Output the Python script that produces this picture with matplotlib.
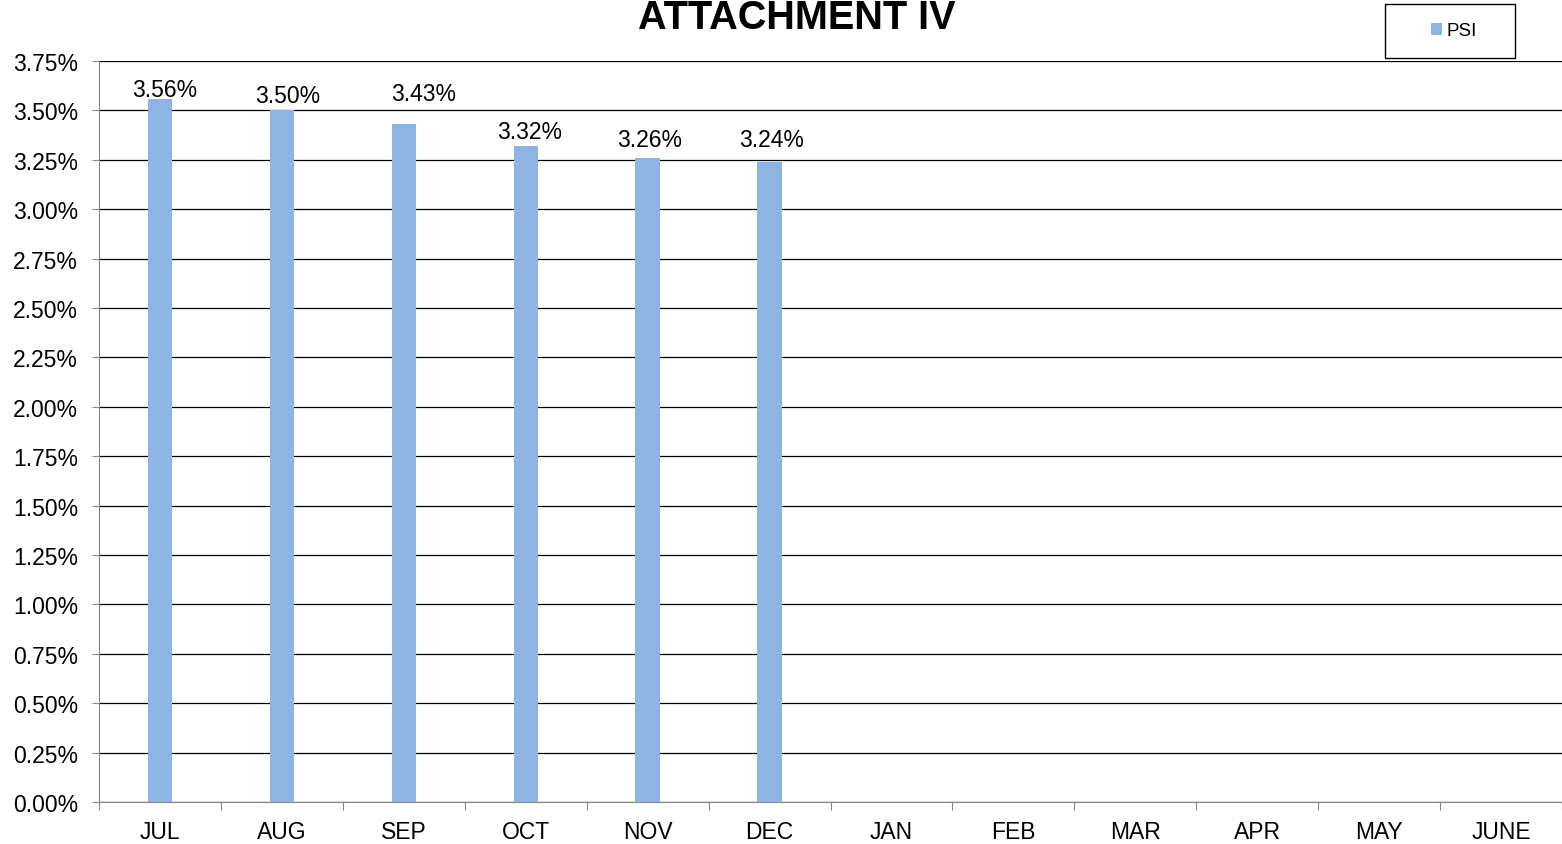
import matplotlib
matplotlib.use('Agg')
import matplotlib.pyplot as plt
from matplotlib.patches import Rectangle
from matplotlib.ticker import FuncFormatter

plt.rcParams['font.family'] = ['Liberation Sans', 'DejaVu Sans']

# Datos del gráfico
meses = ['JUL', 'AUG', 'SEP', 'OCT', 'NOV', 'DEC', 'JAN', 'FEB', 'MAR', 'APR', 'MAY', 'JUNE']
psi = [3.56, 3.50, 3.43, 3.32, 3.26, 3.24, None, None, None, None, None, None]
etiquetas = ['3.56%', '3.50%', '3.43%', '3.32%', '3.26%', '3.24%']
yticks = [0.0, 0.25, 0.5, 0.75, 1.0, 1.25, 1.5, 1.75, 2.0, 2.25, 2.5, 2.75, 3.0, 3.25, 3.5, 3.75]

# Desplazamiento de cada etiqueta (como en el original)
desplaz_y = [0.048, 0.074, 0.154, 0.071, 0.095, 0.115]
desplaz_x = [0.04, 0.05, 0.16, 0.03, 0.02, 0.02]

color_barra = '#8EB4E3'

fig = plt.figure(figsize=(15.62, 8.45), dpi=100)
ax = fig.add_axes([99 / 1562, 1 - 803 / 845, 1 - 99 / 1562, (803 - 62) / 845])

x = list(range(len(meses)))
valores = [v if v is not None else 0 for v in psi]
bars = ax.bar(x, valores, width=0.2, color=color_barra, zorder=3, label='PSI')

# Etiquetas sobre las barras
for bar, texto, v, dx, dy in zip(bars, etiquetas, psi, desplaz_x, desplaz_y):
    ax.text(bar.get_x() + bar.get_width() / 2 + dx, v + dy, texto,
            ha='center', va='center', fontsize=16.5)

ax.set_xlim(-0.5, len(meses) - 0.5)
ax.set_ylim(0, 3.75)
ax.set_yticks(yticks)
ax.yaxis.set_major_formatter(FuncFormatter(lambda v, p: f'{v:.2f}%'))
ax.grid(axis='y', color='#000000', linewidth=0.9, zorder=0)
ax.set_axisbelow(True)

# Marcas del eje x entre categorías
ax.set_xticks([i + 0.5 for i in range(-1, len(meses))], minor=False)
ax.set_xticklabels([])
ax.set_xticks(x, minor=True)
ax.set_xticklabels(meses, minor=True, fontsize=16.5)
ax.tick_params(axis='x', which='minor', length=0, pad=13)
ax.tick_params(axis='x', which='major', length=6, color='#888888', direction='out')
ax.tick_params(axis='y', length=5, color='#888888', labelsize=16.5, pad=10)

for s in ['top', 'right']:
    ax.spines[s].set_visible(False)
ax.spines['left'].set_color('#888888')
ax.spines['bottom'].set_color('#888888')

fig.text(797 / 1562, 1 - 18 / 845, 'ATTACHMENT IV', ha='center', va='center',
         fontsize=28.5, fontweight='bold')

# Leyenda con recuadro
fig.patches.append(Rectangle((1385 / 1562, 1 - 59 / 845), 130 / 1562, 54 / 845,
                             transform=fig.transFigure, fill=False,
                             edgecolor='#000000', linewidth=1))
fig.legend(handles=[bars], labels=['PSI'], loc='center',
           bbox_to_anchor=(1454 / 1562, 1 - 32 / 845), frameon=False,
           fontsize=13.5, handlelength=0.55, handleheight=0.55, handletextpad=0.25)

plt.savefig('out.png', dpi=100)
